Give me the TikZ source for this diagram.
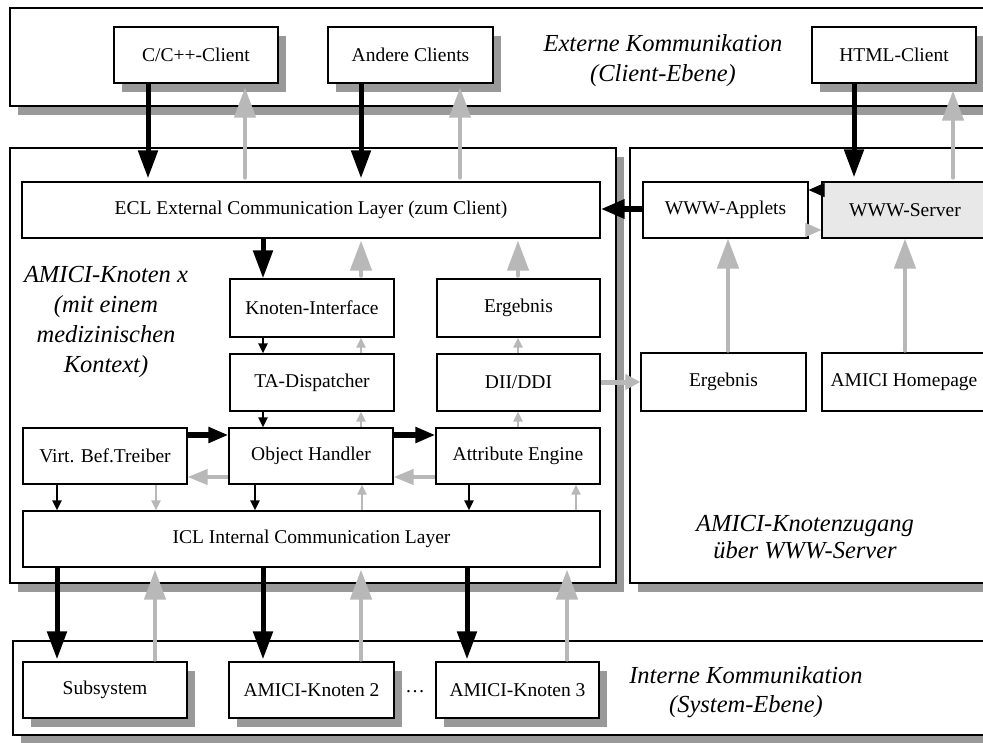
\documentclass[tikz,border=0pt]{standalone}
\usepackage{fontspec}
\setmainfont{Liberation Serif}
\usetikzlibrary{arrows.meta,shadows}
\definecolor{shadowgray}{gray}{0.6}
\definecolor{arrgray}{gray}{0.72}
\definecolor{srvfill}{gray}{0.91}
\begin{document}
\begin{tikzpicture}[x=1pt,y=-1pt,
  box/.style={draw=black, line width=1.2pt, fill=white, inner sep=0pt,
    font=\fontsize{19.5}{22}\selectfont},
  shbox/.style={box, general shadow={fill=shadowgray, draw=none, shadow xshift=8pt, shadow yshift=-9pt}},
  lab/.style={font=\fontsize{24.5}{30}\selectfont\itshape, align=center, inner sep=0pt},
  arrBigK/.style={draw=black, line width=5pt, -{Triangle[length=28pt,width=19pt]}},
  arrBigG/.style={draw=arrgray, line width=4.5pt, line cap=round, -{Triangle[length=30pt,width=21pt]}},
  arrMidK/.style={draw=black, line width=6pt, -{Triangle[length=20pt,width=15pt]}},
  arrMidG/.style={draw=arrgray, line width=4pt, -{Triangle[length=20pt,width=15pt]}},
  arrSmK/.style={draw=black, line width=2pt, -{Triangle[length=10pt,width=9pt]}},
  arrSmG/.style={draw=arrgray, line width=2pt, -{Triangle[length=10pt,width=9pt]}}
]
\useasboundingbox (0,0) rectangle (983,742);
\clip (0,0) rectangle (983,742);
\fill[white] (0,0) rectangle (983,742);

% column / row helper coordinates
\foreach \c in {57,148,155,156,245,255,263,361,362,460,467,469,518,567,576,728,854,905,953}
  {\coordinate (c\c) at (\c,0);}
\foreach \r in {190,209,230,382,435,477}
  {\coordinate (r\r) at (0,\r);}

% outer frames
\node[shbox, minimum width=990, minimum height=98] (topbox) at (505,57) {};
\node[shbox, minimum width=606, minimum height=435] (leftpanel) at (313,365.5) {};
\node[shbox, minimum width=370, minimum height=435] (rightpanel) at (815,365.5) {};
\node[shbox, minimum width=987, minimum height=94] (botbox) at (506.5,688) {};

% client level
\node[shbox, minimum width=164, minimum height=56] (cc) at (196,55) {C/C++-Client};
\node[shbox, minimum width=165, minimum height=56] (ac) at (410.5,55) {Andere Clients};
\node[shbox, minimum width=164, minimum height=56] (html) at (894,55) {HTML-Client};
\node[lab] (extlab) at (663,61) {Externe Kommunikation\\(Client-Ebene)};

% AMICI node
\node[box, minimum width=578, minimum height=56] (ecl) at (311,210) {ECL External Communication Layer (zum Client)};
\node[box, minimum width=164, minimum height=58] (ki) at (312,308) {Knoten-Interface};
\node[box, minimum width=163, minimum height=58] (erg1) at (518.5,308) {Ergebnis};
\node[box, minimum width=164, minimum height=57] (ta) at (312,382.5) {TA-Dispatcher};
\node[box, minimum width=163, minimum height=57] (dii) at (518.5,382.5) {DII/DDI};
\node[box, minimum width=164, minimum height=56] (virt) at (105,456) {Virt. Bef.Treiber};
\node[box, minimum width=164, minimum height=56] (oh) at (311,456) {Object Handler};
\node[box, minimum width=164, minimum height=56] (ae) at (518,456) {Attribute Engine};
\node[box, minimum width=577, minimum height=56] (icl) at (311.5,539) {ICL Internal Communication Layer};
\node[lab] (amlab) at (106,322) {AMICI-Knoten x\\(mit einem\\medizinischen\\Kontext)};

% WWW access
\node[box, minimum width=165, minimum height=56] (applets) at (725.5,210) {WWW-Applets};
\node[box, fill=srvfill, minimum width=166, minimum height=56] (server) at (905,210) {WWW-Server};
\node[box, minimum width=165, minimum height=58] (erg2) at (723.5,382) {Ergebnis};
\node[box, minimum width=164, minimum height=58] (home) at (904,382) {AMICI Homepage};
\node[lab, font=\fontsize{24.5}{27}\selectfont\itshape] (wwwlab) at (805,537) {AMICI-Knotenzugang\\über WWW-Server};

% system level
\node[shbox, minimum width=164, minimum height=56] (sub) at (105,690) {Subsystem};
\node[shbox, minimum width=165, minimum height=56] (k2) at (311.5,690) {AMICI-Knoten 2};
\node[shbox, minimum width=163, minimum height=56] (k3) at (517.5,690) {AMICI-Knoten 3};
\node[font=\fontsize{19.5}{22}\selectfont, inner sep=0pt] (dots) at (415,692) {\dots};
\node[lab, font=\fontsize{24.5}{29}\selectfont\itshape] (intlab) at (746,692) {Interne Kommunikation\\(System-Ebene)};

% client arrows
\draw[arrBigK, shorten >=3pt] (cc.south -| c148) -- (ecl.north -| c148);
\draw[arrBigG, shorten <=4pt, shorten >=4pt] (ecl.north -| c245) -- (cc.south -| c245);
\draw[arrBigK, shorten >=3pt] (ac.south -| c361) -- (ecl.north -| c361);
\draw[arrBigG, shorten <=4pt, shorten >=4pt] (ecl.north -| c460) -- (ac.south -| c460);
\draw[arrBigK, shorten >=4pt] (html.south -| c854) -- (server.north -| c854);
\draw[arrBigG, shorten <=4pt, shorten >=7pt] (server.north -| c953) -- (html.south -| c953);

% inside AMICI node
\draw[arrBigK] (ecl.south -| c263) -- (ki.north -| c263);
\draw[arrBigG, shorten <=3pt, shorten >=2pt] (ki.north -| c361) -- (ecl.south -| c361);
\draw[arrBigG, shorten <=3pt, shorten >=2pt] (erg1.north -| c518) -- (ecl.south -| c518);
\draw[arrSmK] (ki.south -| c263) -- (ta.north -| c263);
\draw[arrSmG] (ta.north -| c361) -- (ki.south -| c361);
\draw[arrSmG] (dii.north -| c518) -- (erg1.south -| c518);
\draw[arrSmK] (ta.south -| c263) -- (oh.north -| c263);
\draw[arrSmG] (oh.north -| c361) -- (ta.south -| c361);
\draw[arrSmG] (ae.north -| c518) -- (dii.south -| c518);
\draw[arrMidK] (virt.east |- r435) -- (oh.west |- r435);
\draw[arrMidG] (oh.west |- r477) -- (virt.east |- r477);
\draw[arrMidK] (oh.east |- r435) -- (ae.west |- r435);
\draw[arrMidG] (ae.west |- r477) -- (oh.east |- r477);
\draw[arrSmK] (virt.south -| c57) -- (icl.north -| c57);
\draw[arrSmG] (virt.south -| c156) -- (icl.north -| c156);
\draw[arrSmK] (oh.south -| c255) -- (icl.north -| c255);
\draw[arrSmG] (icl.north -| c362) -- (oh.south -| c362);
\draw[arrSmK] (ae.south -| c469) -- (icl.north -| c469);
\draw[arrSmG] (icl.north -| c576) -- (ae.south -| c576);

% system arrows
\draw[arrBigK, shorten >=2pt] (icl.south -| c57) -- (sub.north -| c57);
\draw[arrBigG, shorten <=2pt, shorten >=2pt] (sub.north -| c155) -- (icl.south -| c155);
\draw[arrBigK, shorten >=2pt] (icl.south -| c263) -- (k2.north -| c263);
\draw[arrBigG, shorten <=2pt, shorten >=2pt] (k2.north -| c361) -- (icl.south -| c361);
\draw[arrBigK, shorten >=2pt] (icl.south -| c467) -- (k3.north -| c467);
\draw[arrBigG, shorten <=2pt, shorten >=2pt] (k3.north -| c567) -- (icl.south -| c567);

% WWW arrows
\draw[draw=black, line width=6pt, -{Triangle[length=24pt,width=18pt]}] (applets.west |- r209) -- (ecl.east |- r209);
\draw[draw=black, line width=1pt, -{Triangle[length=16pt,width=14pt]}, shorten <=-3pt] (server.west |- r190) -- (applets.east |- r190);
\draw[draw=arrgray, line width=1pt, -{Triangle[length=16pt,width=14pt]}, shorten <=-3pt] (applets.east |- r230) -- (server.west |- r230);
\draw[arrBigG, shorten <=2pt] (erg2.north -| c728) -- (applets.south -| c728);
\draw[arrBigG, shorten <=2pt] (home.north -| c905) -- (server.south -| c905);
\draw[draw=arrgray, line width=5pt, -{Triangle[length=15pt,width=15pt]}] (dii.east |- r382) -- (erg2.west |- r382);
\end{tikzpicture}
\end{document}
